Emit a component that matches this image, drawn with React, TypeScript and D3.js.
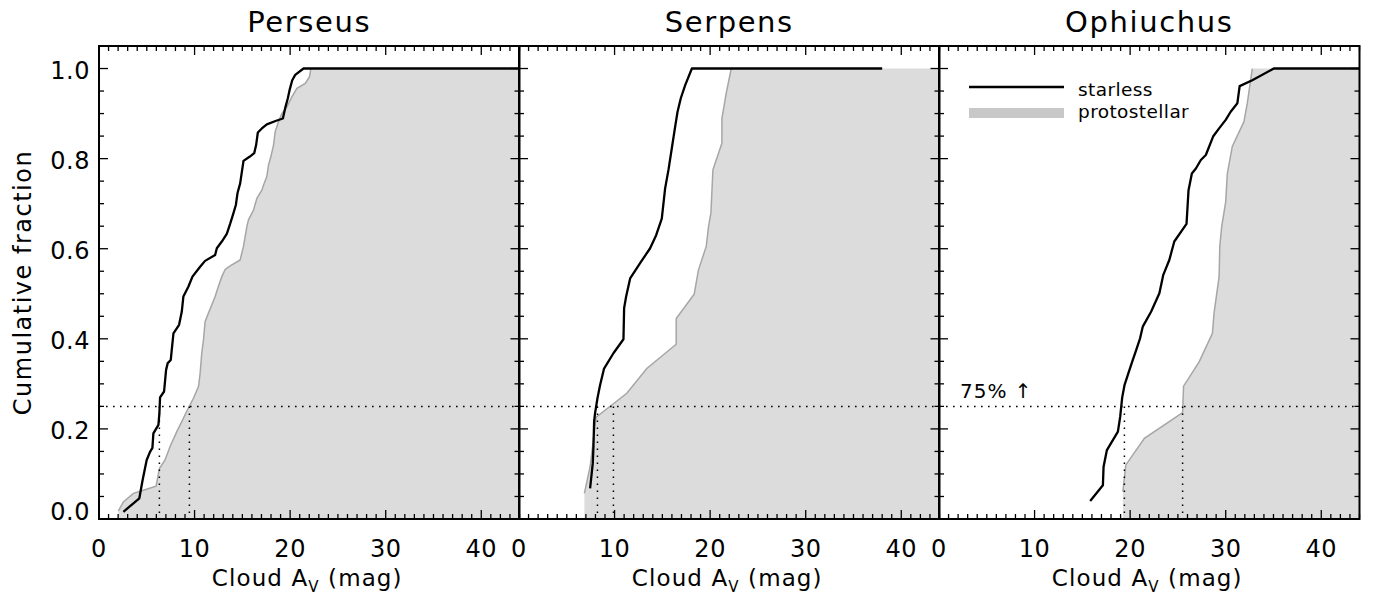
import React from 'react';
import * as d3 from 'd3';

const panelTitles = ['Perseus', 'Serpens', 'Ophiuchus'];
const xTickLabels = [0, 10, 20, 30, 40];
const yTickLabels = [0.0, 0.2, 0.4, 0.6, 0.8, 1.0];

// Perseus
const perseusStarless: [number, number][] = [
  [2.55, 0.016], [4.22, 0.046], [4.57, 0.087], [4.99, 0.131], [5.34, 0.149], [5.59, 0.158],
  [5.69, 0.19], [6.22, 0.209], [6.32, 0.235], [6.39, 0.27], [6.81, 0.283], [7.02, 0.331],
  [7.19, 0.346], [7.51, 0.353], [7.61, 0.375], [7.79, 0.412], [8.38, 0.431], [8.66, 0.46],
  [8.83, 0.494], [9.36, 0.516], [9.78, 0.538], [10.58, 0.56], [11.1, 0.573], [12.15, 0.586],
  [12.33, 0.601], [12.85, 0.616], [13.37, 0.633], [13.72, 0.655], [14.07, 0.679], [14.32, 0.697],
  [14.49, 0.723], [14.77, 0.745], [15.12, 0.795], [15.75, 0.804], [16.24, 0.812], [16.44, 0.83],
  [16.62, 0.858], [17.04, 0.867], [17.56, 0.876], [18.54, 0.884], [19.24, 0.889], [19.48, 0.912],
  [19.76, 0.934], [19.94, 0.952], [20.22, 0.974], [20.53, 0.986], [21.4, 1.0], [44, 1.0],
];
const perseusProto: [number, number][] = [
  [2.03, 0.018], [2.55, 0.038], [3.6, 0.057], [4.64, 0.064], [5.97, 0.073], [6.32, 0.112],
  [6.91, 0.131], [7.44, 0.161], [8.14, 0.194], [8.66, 0.216], [9.25, 0.242], [9.88, 0.268],
  [10.41, 0.294], [10.58, 0.323], [10.75, 0.368], [10.93, 0.397], [11.1, 0.438], [11.45, 0.457],
  [11.8, 0.475], [12.15, 0.494], [12.49, 0.516], [12.85, 0.538], [13.2, 0.554], [13.72, 0.562],
  [14.77, 0.575], [14.94, 0.59], [15.12, 0.605], [15.47, 0.649], [15.64, 0.664], [16.17, 0.686],
  [16.52, 0.712], [17.04, 0.73], [17.21, 0.741], [17.56, 0.76], [17.74, 0.786], [17.98, 0.804],
  [18.26, 0.83], [18.44, 0.86], [18.78, 0.882], [19.13, 0.9], [19.66, 0.915], [20.18, 0.937],
  [20.71, 0.956], [21.58, 0.967], [22.03, 0.982], [22.17, 1.0],
];

// Serpens
const serpensStarless: [number, number][] = [
  [7.44, 0.068], [7.72, 0.124], [7.79, 0.161], [7.86, 0.216], [7.96, 0.235], [8.21, 0.268],
  [8.48, 0.297], [8.9, 0.334], [9.88, 0.368], [10.93, 0.399], [11.0, 0.468], [11.21, 0.494],
  [11.63, 0.534], [12.67, 0.568], [13.72, 0.601], [14.35, 0.63], [14.94, 0.667], [15.29, 0.734],
  [15.64, 0.775], [15.99, 0.823], [16.34, 0.871], [16.59, 0.904], [16.93, 0.934], [17.39, 0.963],
  [18.09, 1.0], [38.0, 1.0],
];
const serpensProto: [number, number][] = [
  [6.84, 0.057], [7.44, 0.116], [8.07, 0.226], [9.71, 0.253], [11.28, 0.279], [13.37, 0.334],
  [16.45, 0.388], [16.45, 0.445], [18.33, 0.499], [18.78, 0.553], [19.59, 0.605], [19.83, 0.649],
  [20.08, 0.679], [20.29, 0.775], [21.23, 0.834], [21.23, 0.889], [21.68, 0.945], [22.21, 1.0],
];

// Ophiuchus
const ophiuchusStarless: [number, number][] = [
  [15.82, 0.04], [17.15, 0.075], [17.22, 0.116], [17.57, 0.153], [18.72, 0.194], [18.96, 0.227],
  [19.17, 0.27], [19.41, 0.297], [19.76, 0.32], [20.21, 0.349], [20.63, 0.375], [21.04, 0.401],
  [21.32, 0.427], [22.19, 0.46], [23.06, 0.501], [23.47, 0.542], [24.1, 0.575], [24.62, 0.616],
  [25.9, 0.655], [26.11, 0.73], [26.46, 0.767], [26.88, 0.778], [27.4, 0.797], [27.92, 0.808],
  [28.68, 0.849], [29.31, 0.867], [30.0, 0.886], [30.52, 0.904], [31.22, 0.923], [31.46, 0.961],
  [32.78, 0.974], [35.03, 1.0], [44, 1.0],
];
const ophiuchusProto: [number, number][] = [
  [19.24, 0.061], [19.55, 0.12], [21.49, 0.179], [25.49, 0.236], [25.59, 0.295], [27.22, 0.349],
  [28.61, 0.412], [28.78, 0.457], [29.31, 0.538], [29.38, 0.605], [29.58, 0.649], [30.0, 0.704],
  [30.17, 0.767], [30.69, 0.827], [31.91, 0.882], [32.26, 0.923], [32.78, 1.0],
];

const starlessSeries = [perseusStarless, serpensStarless, ophiuchusStarless];
const protoSeries = [perseusProto, serpensProto, ophiuchusProto];
const starless25 = [6.32, 8.21, 19.4];
const proto25 = [9.46, 9.88, 25.49];
const quartile = 0.25;

const W = 1376;
const H = 597;
const panelLefts = [99, 519, 939];
const panelW = 420.5;
const top = 46;
const bottom = 519;
const xMax = 44;
const yMax = 1.05;

const font = "'DejaVu Sans', sans-serif";

function Panel({ idx }: { idx: number }) {
  const left = panelLefts[idx];
  const x = d3.scaleLinear().domain([0, xMax]).range([left, left + panelW]);
  const y = d3.scaleLinear().domain([0, yMax]).range([bottom, top]);
  const line = d3.line<[number, number]>().x(d => x(d[0])).y(d => y(d[1]));
  const proto = protoSeries[idx];
  const poly: [number, number][] = [
    [proto[0][0], 0], ...proto, [xMax, 1.0], [xMax, 0],
  ];
  const clipId = `clip${idx}`;
  const minorX = d3.range(0, xMax + 0.001, 1);
  const minorY = d3.range(0, yMax + 0.001, 0.05);
  const isMajorX = (v: number) => Math.abs(v % 10) < 1e-6;
  const isMajorY = (v: number) => Math.abs(Math.round(v * 100) % 20) < 1e-6;
  return (
    <g>
      <defs>
        <clipPath id={clipId}>
          <rect x={x(0)} y={top} width={panelW} height={bottom - top} />
        </clipPath>
      </defs>
      <g clipPath={`url(#${clipId})`}>
        <path d={line(poly) + 'Z'} fill="#dcdcdc" stroke="none" />
        <path d={line(proto) || ''} fill="none" stroke="#a6a6a6" strokeWidth={1.5} />
        <line x1={x(0)} x2={x(xMax)} y1={y(quartile)} y2={y(quartile)} stroke="#000" strokeWidth={1.5} strokeDasharray="1.6 5.4" />
        <line x1={x(starless25[idx])} x2={x(starless25[idx])} y1={y(quartile)} y2={y(0)} stroke="#000" strokeWidth={1.5} strokeDasharray="1.6 5.4" />
        <line x1={x(proto25[idx])} x2={x(proto25[idx])} y1={y(quartile)} y2={y(0)} stroke="#000" strokeWidth={1.5} strokeDasharray="1.6 5.4" />
        <path d={line(starlessSeries[idx]) || ''} fill="none" stroke="#000" strokeWidth={2.3} strokeLinejoin="round" />
      </g>
      {minorX.map(v => {
        const len = isMajorX(v) ? 9 : 5;
        return (
          <g key={'xt' + v}>
            <line x1={x(v)} x2={x(v)} y1={bottom} y2={bottom - len} stroke="#000" strokeWidth={1.3} />
            <line x1={x(v)} x2={x(v)} y1={top} y2={top + len} stroke="#000" strokeWidth={1.3} />
          </g>
        );
      })}
      {minorY.map(v => {
        const len = isMajorY(v) ? 9 : 5;
        return (
          <g key={'yt' + v}>
            <line x1={x(0)} x2={x(0) + len} y1={y(v)} y2={y(v)} stroke="#000" strokeWidth={1.3} />
            <line x1={x(xMax)} x2={x(xMax) - len} y1={y(v)} y2={y(v)} stroke="#000" strokeWidth={1.3} />
          </g>
        );
      })}
      <rect x={x(0)} y={top} width={panelW} height={bottom - top} fill="none" stroke="#000" strokeWidth={2} />
      {xTickLabels.map(v => (
        <text key={'xl' + v} x={x(v)} y={557} textAnchor="middle" fontSize={24} fontFamily={font} letterSpacing={0.5}>{v}</text>
      ))}
      <text x={x(xMax / 2) - 2} y={586} textAnchor="middle" fontSize={23} fontFamily={font} letterSpacing={1.1}>
        Cloud A<tspan fontSize={15} dy={6}>V</tspan><tspan dy={-6}> (mag)</tspan>
      </text>
      <text x={x(xMax / 2)} y={32} textAnchor="middle" fontSize={29} fontFamily={font} letterSpacing={1.6}>{panelTitles[idx]}</text>
    </g>
  );
}

export default function App() {
  const y = d3.scaleLinear().domain([0, yMax]).range([bottom, top]);
  return (
    <div style={{ position: 'fixed', left: 0, top: 0, background: '#fff' }}>
      <svg width={W} height={H} viewBox={`0 0 ${W} ${H}`} style={{ display: 'block', background: '#fff' }}>
        {[0, 1, 2].map(i => <Panel key={i} idx={i} />)}
        {yTickLabels.map(v => (
          <text key={'yl' + v} x={90} y={v === 0 ? y(v) + 1 : y(v) + 10} textAnchor="end" fontSize={24} fontFamily={font} letterSpacing={0.5}>
            {v.toFixed(1)}
          </text>
        ))}
        <text transform={`translate(31, ${(top + bottom) / 2}) rotate(-90)`} textAnchor="middle" fontSize={24} fontFamily={font} letterSpacing={1.5}>
          Cumulative fraction
        </text>
        <line x1={969} x2={1064} y1={87} y2={87} stroke="#000" strokeWidth={2.5} />
        <text x={1078} y={96} fontSize={18.5} fontFamily={font} letterSpacing={0.4}>starless</text>
        <line x1={969} x2={1064} y1={113} y2={113} stroke="#c8c8c8" strokeWidth={10} />
        <text x={1078} y={118} fontSize={18.5} fontFamily={font} letterSpacing={0.4}>protostellar</text>
        <text x={960} y={398} fontSize={20} fontFamily={font} letterSpacing={1}>75% ↑</text>
      </svg>
    </div>
  );
}
